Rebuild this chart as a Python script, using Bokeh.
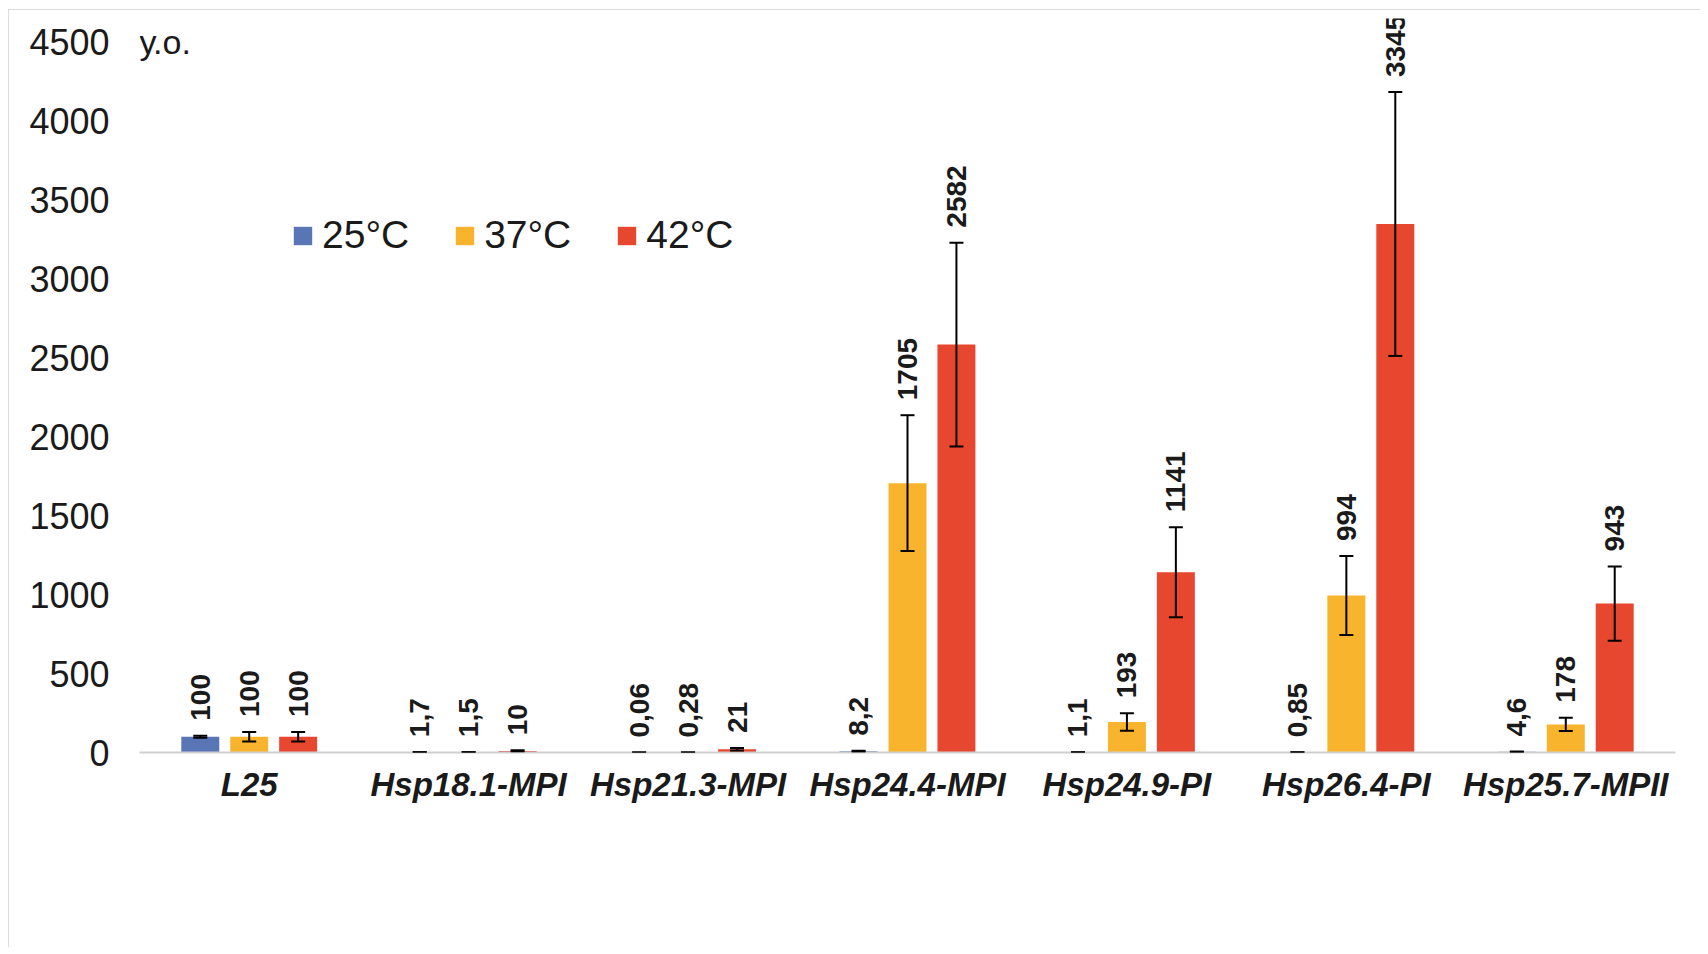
import math
from bokeh.plotting import figure
from bokeh.models import (FactorRange, Range1d, ColumnDataSource, Whisker, TeeHead,
                          Legend, LegendItem, Label, FixedTicker)
from bokeh.transform import dodge
from bokeh.core.properties import value
from bokeh.embed import file_html
from bokeh.resources import INLINE

categories = ["L25", "Hsp18.1-MPI", "Hsp21.3-MPI", "Hsp24.4-MPI",
              "Hsp24.9-PI", "Hsp26.4-PI", "Hsp25.7-MPII"]
series_names = ["25°C", "37°C", "42°C"]
values_25 = [100, 1.7, 0.06, 8.2, 1.1, 0.85, 4.6]
values_37 = [100, 1.5, 0.28, 1705, 193, 994, 178]
values_42 = [100, 10, 21, 2582, 1141, 3345, 943]
err_25 = [6, 0.5, 0.02, 3, 0.4, 0.3, 1.5]
err_37 = [30, 0.5, 0.1, 430, 55, 250, 42]
err_42 = [30, 4, 8, 645, 285, 835, 235]
y_ticks = [0, 500, 1000, 1500, 2000, 2500, 3000, 3500, 4000, 4500]
y_unit_label = "у.о."

colors = ["#5876b6", "#f9b42d", "#e6472e"]
offsets = [-0.223, 0.0, 0.223]
FONT = "Liberation Sans"


def fmt(v):
    s = str(v)
    if s.endswith(".0"):
        s = s[:-2]
    return s.replace(".", ",")


p = figure(x_range=FactorRange(*categories), y_range=Range1d(0, 4646),
           width=1692, height=938, output_backend="svg", toolbar_location=None,
           min_border_left=130, min_border_right=26, min_border_top=8,
           min_border_bottom=196)
p.styles = {"margin-top": "9px", "margin-left": "8px",
            "border-top": "1px solid #dcdcdc", "border-left": "1px solid #dcdcdc"}
p.xgrid.visible = False
p.ygrid.visible = False
p.outline_line_color = None
p.background_fill_color = "white"
p.border_fill_color = "white"

p.yaxis.ticker = FixedTicker(ticks=y_ticks)
p.yaxis.axis_line_color = None
p.yaxis.major_tick_line_color = None
p.yaxis.minor_tick_line_color = None
p.yaxis.major_tick_out = 0
p.yaxis.major_label_standoff = 30
p.yaxis.major_label_text_font = FONT
p.yaxis.major_label_text_font_size = "36px"
p.yaxis.major_label_text_color = "#1a1a1a"

p.xaxis.axis_line_color = "#cfcfcf"
p.xaxis.axis_line_width = 2
p.xaxis.major_tick_line_color = None
p.xaxis.minor_tick_line_color = None
p.xaxis.major_tick_out = 0
p.xaxis.major_label_standoff = 13
p.xaxis.major_label_text_font = FONT
p.xaxis.major_label_text_font_style = "bold italic"
p.xaxis.major_label_text_font_size = "33px"
p.xaxis.major_label_text_color = "#1a1a1a"

all_values = [values_25, values_37, values_42]
all_errs = [err_25, err_37, err_42]
legend_items = []
for name, vals, errs, col, off in zip(series_names, all_values, all_errs, colors, offsets):
    src = ColumnDataSource(dict(
        cat=categories,
        val=vals,
        upper=[v + e for v, e in zip(vals, errs)],
        lower=[max(v - e, 0) for v, e in zip(vals, errs)],
        lab=[fmt(v) for v in vals],
    ))
    r = p.vbar(x=dodge("cat", off, range=p.x_range), top="val", width=0.173,
               source=src, fill_color=col, line_color=None)
    w = Whisker(base=dodge("cat", off, range=p.x_range), upper="upper", lower="lower",
                source=src, line_width=2, line_color="black", level="annotation",
                upper_head=TeeHead(size=14, line_width=2, line_color="black"),
                lower_head=TeeHead(size=14, line_width=2, line_color="black"))
    p.add_layout(w)
    p.text(x=dodge("cat", off, range=p.x_range), y="upper", text="lab", source=src,
           angle=math.pi / 2, text_align="left", text_baseline="middle",
           y_offset=-15, text_font=value(FONT), text_font_style="bold",
           text_font_size="28px", text_color="#1a1a1a")
    legend_items.append(LegendItem(label=name, renderers=[r]))

legend = Legend(items=legend_items, orientation="horizontal", location=(152, 495),
                glyph_width=23, glyph_height=23, label_standoff=8, spacing=44,
                padding=0, margin=0, border_line_color=None, background_fill_alpha=0,
                label_text_font=FONT, label_text_font_size="39px",
                label_text_color="#1a1a1a")
p.add_layout(legend, "center")

p.add_layout(Label(x=0, y=711, x_units="screen", y_units="screen", text=y_unit_label,
                   text_font=FONT, text_font_size="34px", text_color="#1a1a1a",
                   text_baseline="middle", text_align="left"))

open("out.html", "w").write(file_html(p, INLINE))
